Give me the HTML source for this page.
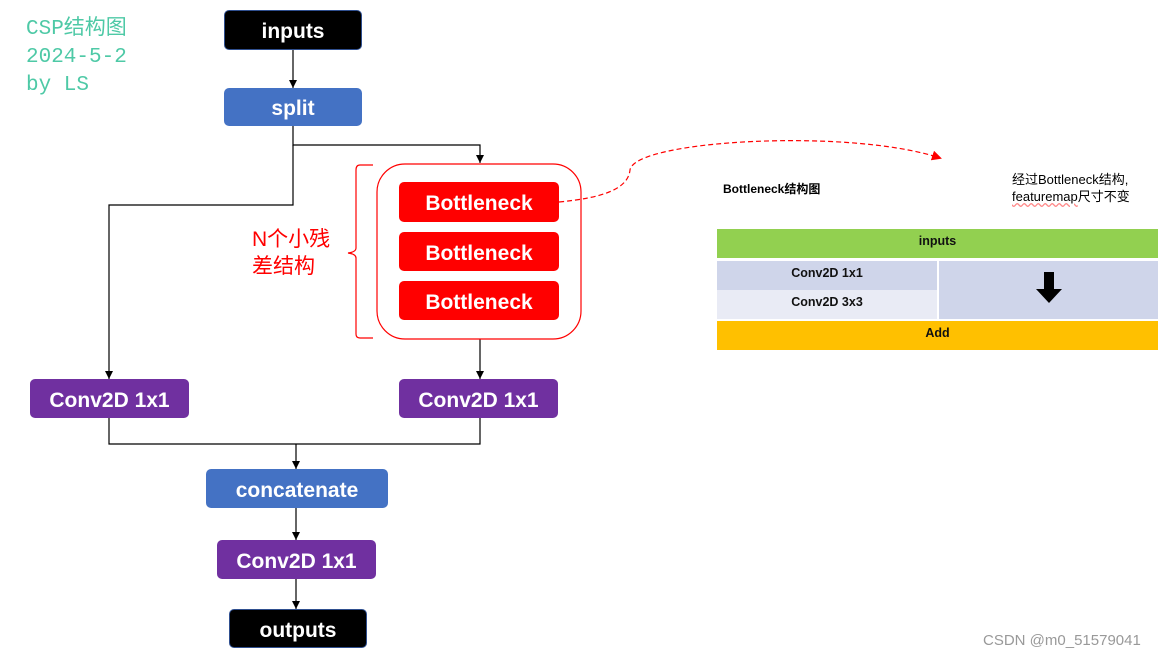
<!DOCTYPE html>
<html><head><meta charset="utf-8"><style>
body{margin:0;width:1174px;height:659px;background:#fff;position:relative;overflow:hidden;font-family:"Liberation Sans","Noto Sans CJK SC",sans-serif}
.b{position:absolute;color:#fff;font-weight:bold;font-size:21px;display:flex;align-items:center;justify-content:center;border-radius:5px;box-sizing:border-box;padding-top:4px}
.k{background:#000;border:1px solid #2F4F8F}
.bl{background:#4472C4}
.p{background:#7030A0}
.r{background:#FF0000}
.t{position:absolute;display:flex;align-items:center;justify-content:center;font-size:12.5px;font-weight:bold;color:#111;box-sizing:border-box;padding-bottom:5px}
</style></head><body>
<div style="position:absolute;left:26px;top:16px;color:#4EC9A6;font-family:'Liberation Mono','Noto Sans CJK SC',monospace;font-size:21px;line-height:28px">CSP结构图<br>2024-5-2<br>by LS</div>
<svg width="1174" height="659" style="position:absolute;left:0;top:0">
<defs><marker id="ar" markerWidth="10" markerHeight="10" refX="8" refY="5" orient="auto" markerUnits="userSpaceOnUse"><path d="M0,0 L10,5 L0,10z" fill="#f00"/></marker></defs>
<g stroke="#000" stroke-width="1.2" fill="none">
<path d="M293 50 V88"/>
<path d="M293 126 V145 H480 V163"/>
<path d="M293 145 V205 H109 V379"/>
<path d="M480 339 V379"/>
<path d="M109 418 V444 H480 V418"/>
<path d="M296 444 V469"/>
<path d="M296 508 V540"/>
<path d="M296 579 V609"/>
</g>
<g fill="#000">
<path d="M289 80 L297 80 L293 88z"/>
<path d="M476 155 L484 155 L480 163z"/>
<path d="M105 371 L113 371 L109 379z"/>
<path d="M476 371 L484 371 L480 379z"/>
<path d="M292 461 L300 461 L296 469z"/>
<path d="M292 532 L300 532 L296 540z"/>
<path d="M292 601 L300 601 L296 609z"/>
</g>
<rect x="377" y="164" width="204" height="175" rx="28" fill="none" stroke="#f00" stroke-width="1.2"/>
<path d="M373 165 H360 Q356 165 356 170 V248 Q356 252 348 253 Q356 254 356 258 V334 Q356 338 360 338 H373" fill="none" stroke="#f00" stroke-width="1.2"/>
<path d="M559 202 C600 198 628 190 630 170 C634 140 850 128 940 158" fill="none" stroke="#f00" stroke-width="1.2" stroke-dasharray="5,3" marker-end="url(#ar)"/>
</svg>
<div class="b k" style="left:224px;top:10px;width:138px;height:40px">inputs</div>
<div class="b bl" style="left:224px;top:88px;width:138px;height:38px">split</div>
<div class="b r" style="left:399px;top:182px;width:160px;height:40px">Bottleneck</div>
<div class="b r" style="left:399px;top:232px;width:160px;height:39px">Bottleneck</div>
<div class="b r" style="left:399px;top:281px;width:160px;height:39px">Bottleneck</div>
<div style="position:absolute;left:252px;top:226px;color:#f00;font-size:21px;line-height:27px">N个小残<br>差结构</div>
<div class="b p" style="left:30px;top:379px;width:159px;height:39px">Conv2D 1x1</div>
<div class="b p" style="left:399px;top:379px;width:159px;height:39px">Conv2D 1x1</div>
<div class="b bl" style="left:206px;top:469px;width:182px;height:39px">concatenate</div>
<div class="b p" style="left:217px;top:540px;width:159px;height:39px">Conv2D 1x1</div>
<div class="b k" style="left:229px;top:609px;width:138px;height:39px">outputs</div>
<div style="position:absolute;left:723px;top:180px;font-size:12px;font-weight:bold">Bottleneck结构图</div>
<div style="position:absolute;left:1012px;top:171px;font-size:13px;line-height:17px">经过Bottleneck结构,<br><span style="text-decoration:underline wavy #f88">featuremap</span>尺寸不变</div>
<div class="t" style="left:717px;top:229px;width:441px;height:29px;background:#92D050">inputs</div>
<div class="t" style="left:717px;top:261px;width:220px;height:29px;background:#CFD5EA">Conv2D 1x1</div>
<div class="t" style="left:717px;top:290px;width:220px;height:29px;background:#E9EBF5">Conv2D 3x3</div>
<div class="t" style="left:939px;top:261px;width:219px;height:58px;background:#CFD5EA;padding:0"><svg width="26" height="32" style="margin-top:-4px"><path d="M8 0 H18 V17 H26 L13 31 L0 17 H8z" fill="#000"/></svg></div>
<div class="t" style="left:717px;top:321px;width:441px;height:29px;background:#FFC000">Add</div>
<div style="position:absolute;left:983px;top:632px;font-size:15px;color:#999">CSDN @m0_51579041</div>
</body></html>
